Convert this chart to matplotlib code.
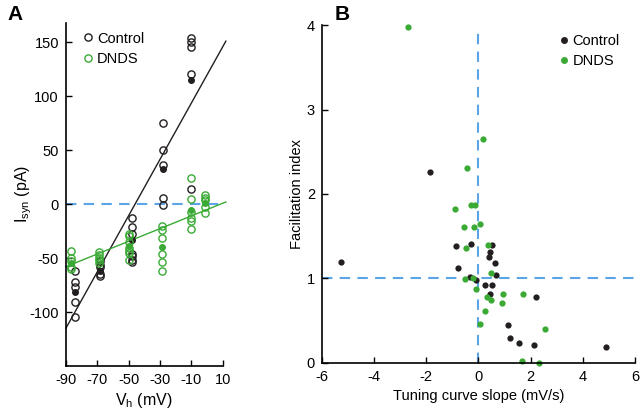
import numpy as np
import matplotlib.pyplot as plt
from matplotlib.lines import Line2D

plt.rcParams['font.family'] = ['Liberation Sans', 'DejaVu Sans']
plt.rcParams['axes.unicode_minus'] = False

BLACK = '#231f20'
GREEN = '#3aaa35'
BLUE = '#5ba4e6'

# panel A: I-V data (open = cells, filled = mean)
ctrl_v = [-84] * 5 + [-68] * 5 + [-48] * 7 + [-28] * 5 + [-10] * 5
ctrl_i = [-62, -72, -77, -91, -105,
          -53, -56, -58, -65, -67,
          -13, -21, -28, -46, -48, -52, -54,
          75, 50, 36, 6, -1,
          154, 150, 146, 121, 14]
ctrl_mean_v = [-84, -68, -48, -28, -10]
ctrl_mean_i = [-81, -62, -33, 33, 115]
ctrl_fit_v = [-90, 12]
ctrl_fit_i = [-115, 151]

dnds_v = [-87] * 5 + [-69] * 5 + [-50] * 7 + [-29] * 6 + [-10] * 6 + [-1] * 5
dnds_i = [-43, -50, -53, -58, -60,
          -44, -47, -50, -52, -55,
          -28, -30, -35, -41, -43, -45, -52,
          -20, -24, -31, -46, -54, -62,
          24, 5, -7, -13, -16, -23,
          8, 6, 4, -3, -8]
dnds_mean_v = [-87, -50, -29, -10, -1]
dnds_mean_i = [-55, -39, -40, -5, 1]
dnds_fit_v = [-90, 12]
dnds_fit_i = [-58, 2]

# panel B: facilitation index vs tuning curve slope
ctrl_slope = [-1.87, -0.84, -0.29, 0.51, 0.46, 0.39, -5.25, 0.64, -0.78, 0.66,
              -0.33, -0.11, 0.54, 0.24, 0.43, 2.22, 1.13, 1.21, 1.54, 2.13, 4.88]
ctrl_fi = [2.26, 1.39, 1.41, 1.40, 1.31, 1.25, 1.19, 1.18, 1.12, 1.04,
           1.02, 0.98, 0.92, 0.92, 0.82, 0.78, 0.45, 0.29, 0.23, 0.21, 0.19]
dnds_slope = [-2.69, 0.18, -0.45, -0.29, -0.14, -0.89, -0.55, -0.18, 0.06, -0.46,
              0.36, 0.48, -0.52, -0.22, -0.10, 0.33, 0.48, 0.94, 1.71, 0.92,
              0.24, 0.06, 2.54, 1.67, 2.31]
dnds_fi = [3.98, 2.65, 2.31, 1.87, 1.87, 1.82, 1.61, 1.61, 1.65, 1.36,
           1.40, 1.07, 0.99, 1.00, 0.88, 0.78, 0.74, 0.82, 0.82, 0.71,
           0.62, 0.46, 0.40, 0.02, 0.0]


def style(ax):
    ax.spines['top'].set_visible(False)
    ax.spines['right'].set_visible(False)
    ax.tick_params(direction='in', length=4, width=1, labelsize=10.5, pad=5)
    for s in ('left', 'bottom'):
        ax.spines[s].set_linewidth(1.2)


fig = plt.figure(figsize=(6.4, 4.11), dpi=100)

axA = fig.add_axes([0.103, 0.1095, 0.245, 0.835])
style(axA)
axA.axhline(0, color=BLUE, lw=1.5, dashes=(5, 3.5), zorder=1)
axA.plot(ctrl_fit_v, ctrl_fit_i, color=BLACK, lw=1, clip_on=False)
axA.plot(dnds_fit_v, dnds_fit_i, color=GREEN, lw=1, clip_on=False)
axA.plot(ctrl_v, ctrl_i, 'o', mfc='none', mec=BLACK, ms=5.2, mew=1)
axA.plot(ctrl_mean_v, ctrl_mean_i, 'o', color=BLACK, ms=4)
axA.plot(dnds_v, dnds_i, 'o', mfc='none', mec=GREEN, ms=5.2, mew=1)
axA.plot(dnds_mean_v, dnds_mean_i, 'o', color=GREEN, ms=4)
axA.set_xlim(-90, 10)
axA.set_ylim(-150, 168)
axA.set_xticks([-90, -70, -50, -30, -10, 10])
axA.set_yticks([-100, -50, 0, 50, 100, 150])
axA.set_xlabel('V$_\\mathregular{h}$ (mV)', fontsize=11.5, labelpad=3)
axA.set_ylabel('I$_\\mathregular{syn}$ (pA)', fontsize=11.5, labelpad=-3)
hA = [Line2D([], [], ls='none', marker='o', mfc='none', mec=BLACK, ms=5.2, mew=1),
      Line2D([], [], ls='none', marker='o', mfc='none', mec=GREEN, ms=5.2, mew=1)]
axA.legend(hA, ['Control', 'DNDS'], loc='upper left', bbox_to_anchor=(0.06, 1.0),
           frameon=False, fontsize=10.5, handlelength=0.6, handletextpad=0.3,
           labelspacing=0.45, borderaxespad=0.2)

axB = fig.add_axes([0.503, 0.117, 0.489, 0.822])
style(axB)
axB.axhline(1, color=BLUE, lw=1.5, dashes=(5, 3.5), zorder=1)
axB.plot([0, 0], [0, 3.95], color=BLUE, lw=1.5, dashes=(5, 3.5), zorder=1)
axB.plot(ctrl_slope, ctrl_fi, 'o', color=BLACK, ms=4.5, mew=0, clip_on=False)
axB.plot(dnds_slope, dnds_fi, 'o', color=GREEN, ms=4.5, mew=0, clip_on=False)
axB.set_xlim(-6, 6)
axB.set_ylim(0, 4)
axB.set_xticks([-6, -4, -2, 0, 2, 4, 6])
axB.set_yticks([0, 1, 2, 3, 4])
axB.set_xlabel('Tuning curve slope (mV/s)', fontsize=10.5, labelpad=4)
axB.set_ylabel('Facilitation index', fontsize=10.5, labelpad=2)
hB = [Line2D([], [], ls='none', marker='o', color=BLACK, ms=5, mew=0),
      Line2D([], [], ls='none', marker='o', color=GREEN, ms=5, mew=0)]
axB.legend(hB, ['Control', 'DNDS'], loc='upper left', bbox_to_anchor=(0.73, 1.0),
           frameon=False, fontsize=10.5, handlelength=0.6, handletextpad=0.3,
           labelspacing=0.45, borderaxespad=0.2)

fig.text(0.012, 0.965, 'A', fontsize=15, fontweight='bold', va='center')
fig.text(0.523, 0.965, 'B', fontsize=15, fontweight='bold', va='center')

fig.savefig('out.png', dpi=100)
